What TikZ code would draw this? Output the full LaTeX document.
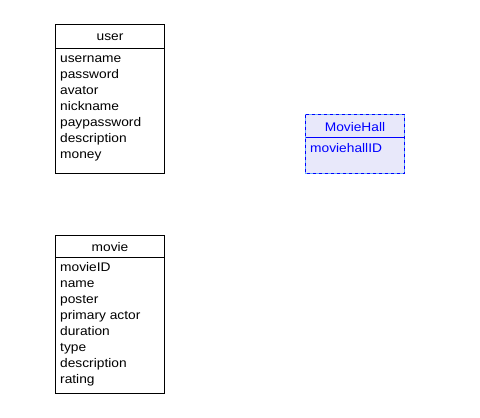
\documentclass[tikz,border=0pt]{standalone}
\usepackage{fontspec}
\setmainfont{Liberation Sans}[FakeStretch=1.1]
\definecolor{hallfill}{RGB}{232,232,250}
\definecolor{hallblue}{RGB}{0,0,255}
\definecolor{halllight}{RGB}{102,170,255}
\begin{document}
\begin{tikzpicture}[x=1pt,y=-1pt,
  txt/.style={inner sep=0pt,font=\fontsize{12.5}{14}\selectfont},
  attr/.style={txt,anchor=base west},
  head/.style={txt,anchor=base},
  classbox/.style={draw=black,line width=1pt,fill=white},
  hallbox/.style={fill=hallfill,draw=halllight,line width=1pt},
  halldash/.style={draw=hallblue,line width=1pt,dash pattern=on 3pt off 3pt}]
\useasboundingbox (0,0) rectangle (480,418);
% user
\draw[classbox] (55.5,24.5) rectangle (164.5,173.5);
\draw[line width=1pt] (55.5,48) -- (164.5,48);
\node[head] (userh) at (110,40.5) {user};
\foreach \t [count=\i from 0] in {username,password,avator,nickname,paypassword,description,money}
  \node[attr] (u\i) at (60,62.7+16*\i) {\t};
% movie
\draw[classbox] (55.5,235) rectangle (164.5,393.5);
\draw[line width=1pt] (55.5,257) -- (164.5,257);
\node[head] (movieh) at (110,251.5) {movie};
\foreach \t [count=\i from 0] in {movieID,name,poster,primary actor,duration,type,description,rating}
  \node[attr] (m\i) at (60,271.3+16*\i) {\t};
% MovieHall
\draw[hallbox] (305.5,114.5) rectangle (404.5,173);
\draw[halldash] (305.5,114.5) rectangle (404.5,173);
\draw[hallblue,line width=1pt] (305.5,137.3) -- (404.5,137.3);
\node[head,text=hallblue] (hallh) at (355,131.5) {MovieHall};
\node[attr,text=hallblue] (h0) at (310,152) {moviehallID};
\end{tikzpicture}
\end{document}
